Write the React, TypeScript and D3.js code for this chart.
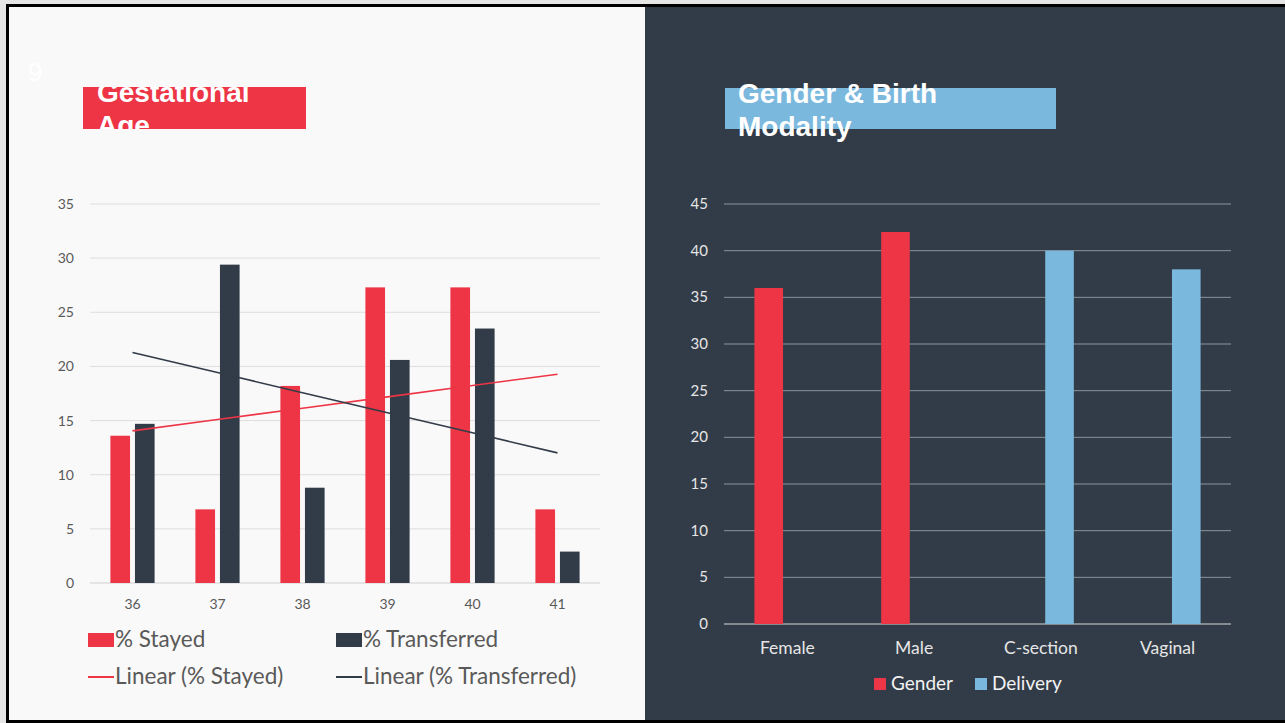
import React, { useEffect, useRef } from 'react';
import * as d3 from 'd3';

// Gestational age chart data (percent of babies)
const ages = ['36', '37', '38', '39', '40', '41'];
const stayed = [13.6, 6.8, 18.2, 27.3, 27.3, 6.8];
const transferred = [14.7, 29.4, 8.8, 20.6, 23.5, 2.9];
const leftTicks = [0, 5, 10, 15, 20, 25, 30, 35];

// Gender & birth modality chart data
const groups = ['Female', 'Male', 'C-section', 'Vaginal'];
const gender = [36, 42, null, null];
const delivery = [null, null, 40, 38];
const rightTicks = [0, 5, 10, 15, 20, 25, 30, 35, 40, 45];

const RED = '#ed3546';
const DARK = '#323c48';
const BLUE = '#7ab8de';
const FONT = 'Lato, "Noto Sans", sans-serif';

// least squares fit over category index, like Excel's linear trendline
function linearFit(values: number[]) {
  const xs = values.map((_, i) => i + 1);
  const mx = d3.mean(xs) || 0;
  const my = d3.mean(values) || 0;
  const num = d3.sum(values, (v, i) => (xs[i] - mx) * (v - my));
  const den = d3.sum(xs, x => (x - mx) * (x - mx));
  const slope = num / den;
  return values.map((_, i) => my + slope * (xs[i] - mx));
}

const App: React.FC = () => {
  const svgRef = useRef<SVGSVGElement>(null);

  useEffect(() => {
    if (!svgRef.current) return;
    const svg = d3.select(svgRef.current);
    svg.selectAll('*').remove();

    // frame + panels
    svg.append('rect').attr('width', 1285).attr('height', 723).attr('fill', '#e6e6e6');
    svg.append('rect').attr('x', 6).attr('y', 4).attr('width', 1279).attr('height', 719).attr('fill', '#000');
    svg.append('rect').attr('x', 9).attr('y', 7).attr('width', 636).attr('height', 713).attr('fill', '#f9f9f9');
    svg.append('rect').attr('x', 645).attr('y', 7).attr('width', 640).attr('height', 713).attr('fill', DARK);

    // faint slide number
    svg.append('text').attr('x', 28).attr('y', 81).attr('fill', '#ffffff')
      .style('font-family', 'Liberation Sans, Arial, sans-serif').style('font-size', '26px').text('9');

    // ---------- Left chart ----------
    const defs = svg.append('defs');
    defs.append('clipPath').attr('id', 'titleClip')
      .append('rect').attr('x', 83).attr('y', 87).attr('width', 223).attr('height', 42);

    svg.append('rect').attr('x', 83).attr('y', 87).attr('width', 223).attr('height', 42).attr('fill', RED);
    const lt = svg.append('text').attr('clip-path', 'url(#titleClip)').attr('fill', '#fff')
      .style('font-family', 'Liberation Sans, Arial, sans-serif').style('font-size', '28px').style('font-weight', 'bold');
    lt.append('tspan').attr('x', 97).attr('y', 102).text('Gestational');
    lt.append('tspan').attr('x', 97).attr('y', 135).text('Age');

    const yL = d3.scaleLinear().domain([0, 35]).range([583, 204]);
    const xL = d3.scaleBand().domain(ages).range([90, 600]).paddingInner(0.48).paddingOuter(0.24);
    const xL1 = d3.scaleBand().domain(['s', 't']).range([0, xL.bandwidth()]).paddingInner(0.2);

    const gl = svg.append('g');
    leftTicks.forEach(t => {
      gl.append('line').attr('x1', 90).attr('x2', 600).attr('y1', yL(t)).attr('y2', yL(t))
        .attr('stroke', t === 0 ? '#cfcfcf' : '#dedede').attr('stroke-width', 1);
      gl.append('text').attr('x', 74).attr('y', yL(t) + 5).attr('text-anchor', 'end')
        .attr('fill', '#595959').style('font-family', FONT).style('font-size', '14px').text(t);
    });

    ages.forEach((a, i) => {
      const x0 = xL(a) || 0;
      gl.append('rect').attr('x', x0 + (xL1('s') || 0)).attr('width', xL1.bandwidth())
        .attr('y', yL(stayed[i])).attr('height', yL(0) - yL(stayed[i])).attr('fill', RED);
      gl.append('rect').attr('x', x0 + (xL1('t') || 0)).attr('width', xL1.bandwidth())
        .attr('y', yL(transferred[i])).attr('height', yL(0) - yL(transferred[i])).attr('fill', DARK);
      gl.append('text').attr('x', x0 + xL.bandwidth() / 2).attr('y', 609).attr('text-anchor', 'middle')
        .attr('fill', '#595959').style('font-family', FONT).style('font-size', '14px').text(a);
    });

    const line = d3.line<number>()
      .x((_, i) => (xL(ages[i]) || 0) + xL.bandwidth() / 2)
      .y(d => yL(d));
    gl.append('path').attr('d', line(linearFit(stayed)) || '').attr('fill', 'none')
      .attr('stroke', RED).attr('stroke-width', 1.6);
    gl.append('path').attr('d', line(linearFit(transferred)) || '').attr('fill', 'none')
      .attr('stroke', DARK).attr('stroke-width', 1.6);

    // left legend
    const legL = [
      { label: '% Stayed', color: RED, kind: 'box', x: 88, y: 647 },
      { label: '% Transferred', color: DARK, kind: 'box', x: 336, y: 647 },
      { label: 'Linear (% Stayed)', color: RED, kind: 'line', x: 88, y: 684 },
      { label: 'Linear (% Transferred)', color: DARK, kind: 'line', x: 336, y: 684 },
    ];
    legL.forEach(l => {
      if (l.kind === 'box') {
        gl.append('rect').attr('x', l.x).attr('y', l.y - 14).attr('width', 26).attr('height', 14).attr('fill', l.color);
      } else {
        gl.append('line').attr('x1', l.x).attr('x2', l.x + 26).attr('y1', l.y - 7).attr('y2', l.y - 7)
          .attr('stroke', l.color).attr('stroke-width', 2);
      }
      gl.append('text').attr('x', l.x + 27).attr('y', l.y).attr('fill', '#595959')
        .style('font-family', FONT).style('font-size', '22.5px').text(l.label);
    });

    // ---------- Right chart ----------
    svg.append('rect').attr('x', 725).attr('y', 88).attr('width', 331).attr('height', 41).attr('fill', BLUE);
    const rt = svg.append('text').attr('fill', '#fff')
      .style('font-family', 'Liberation Sans, Arial, sans-serif').style('font-size', '28px').style('font-weight', 'bold');
    rt.append('tspan').attr('x', 738).attr('y', 103).text('Gender & Birth');
    rt.append('tspan').attr('x', 738).attr('y', 136).text('Modality');

    const yR = d3.scaleLinear().domain([0, 45]).range([624, 204]);
    const xR = d3.scaleBand().domain(groups).range([724, 1231]).paddingInner(0.48).paddingOuter(0.24);
    const xR1 = d3.scaleBand().domain(['g', 'd']).range([0, xR.bandwidth()]).paddingInner(0.233);

    const gr = svg.append('g');
    rightTicks.forEach(t => {
      gr.append('line').attr('x1', 724).attr('x2', 1231).attr('y1', yR(t)).attr('y2', yR(t))
        .attr('stroke', t === 0 ? '#d9d9d9' : '#8a929c').attr('stroke-width', 1);
      gr.append('text').attr('x', 708).attr('y', yR(t) + 5).attr('text-anchor', 'end')
        .attr('fill', '#e6e6e6').style('font-family', FONT).style('font-size', '15px').text(t);
    });

    groups.forEach((g, i) => {
      const x0 = xR(g) || 0;
      const gv = gender[i];
      const dv = delivery[i];
      if (gv != null) {
        gr.append('rect').attr('x', x0 + (xR1('g') || 0)).attr('width', xR1.bandwidth())
          .attr('y', yR(gv)).attr('height', yR(0) - yR(gv)).attr('fill', RED);
      }
      if (dv != null) {
        gr.append('rect').attr('x', x0 + (xR1('d') || 0)).attr('width', xR1.bandwidth())
          .attr('y', yR(dv)).attr('height', yR(0) - yR(dv)).attr('fill', BLUE);
      }
      gr.append('text').attr('x', x0 + xR.bandwidth() / 2).attr('y', 654).attr('text-anchor', 'middle')
        .attr('fill', '#e6e6e6').style('font-family', FONT).style('font-size', '17.5px').text(g);
    });

    // right legend
    const legR = [
      { label: 'Gender', color: RED, x: 874 },
      { label: 'Delivery', color: BLUE, x: 975 },
    ];
    legR.forEach(l => {
      gr.append('rect').attr('x', l.x).attr('y', 678).attr('width', 12).attr('height', 12).attr('fill', l.color);
      gr.append('text').attr('x', l.x + 17).attr('y', 690).attr('fill', '#f2f2f2')
        .style('font-family', FONT).style('font-size', '19px').text(l.label);
    });
  }, []);

  return (
    <svg
      ref={svgRef}
      width={1285}
      height={723}
      style={{ position: 'absolute', left: 0, top: 0, display: 'block' }}
    />
  );
};

export default App;
